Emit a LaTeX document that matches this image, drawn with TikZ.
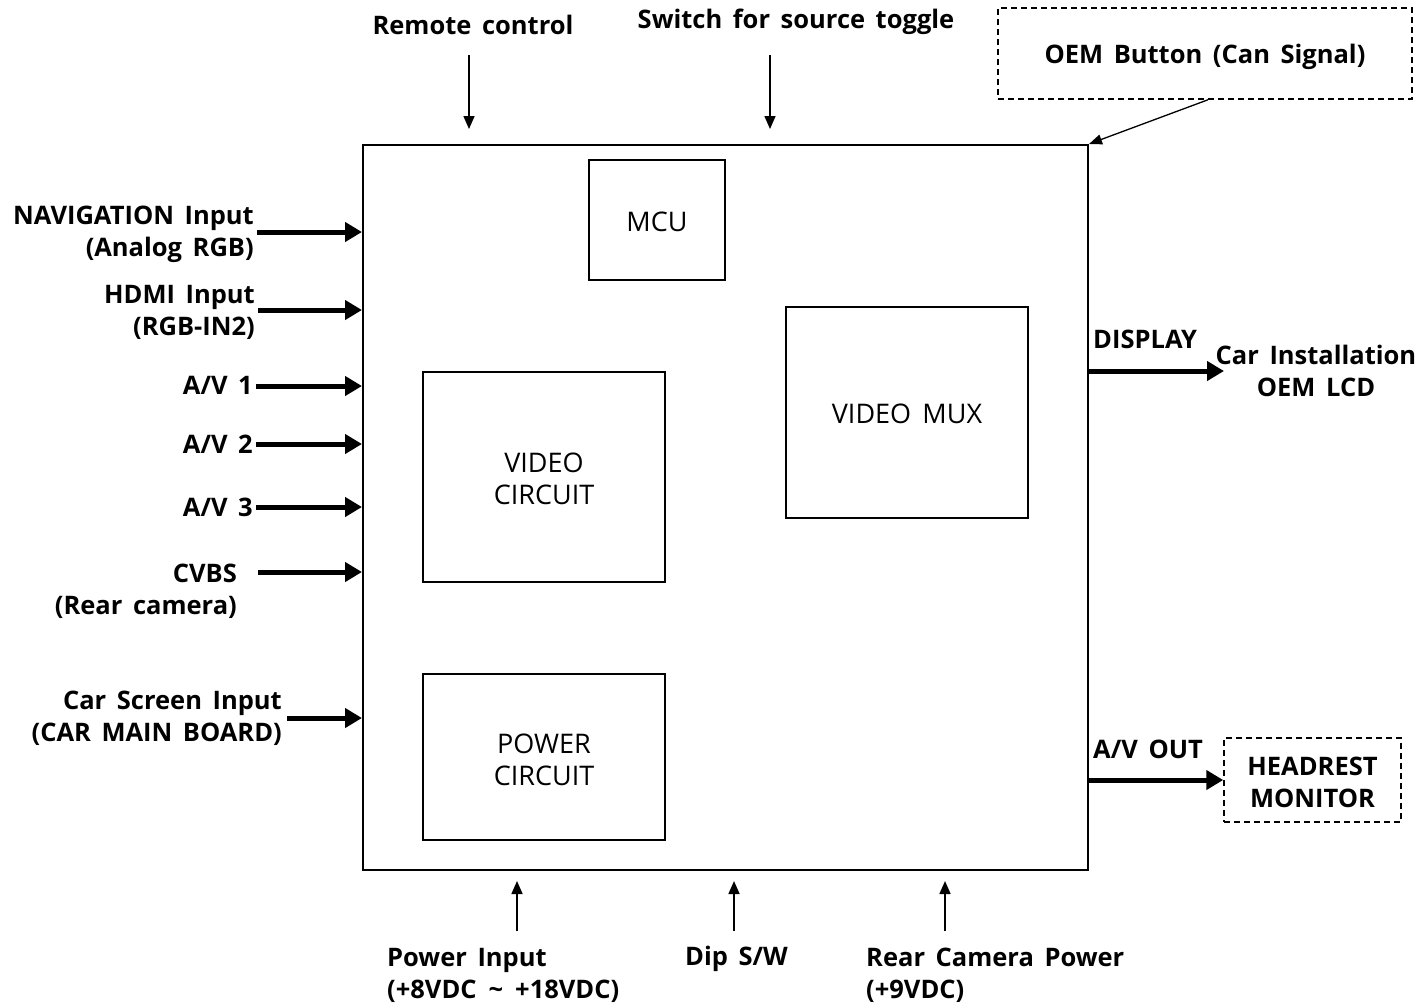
\documentclass[tikz,border=0pt]{standalone}
\usepackage{fontspec}
\setmainfont[WordSpace=1.6]{Open Sans}
\usetikzlibrary{arrows.meta,positioning}
\begin{document}
\begin{tikzpicture}[x=1pt,y=-1pt,
  lbl/.style={font=\fontsize{25.5}{32}\selectfont\bfseries, inner sep=0pt},
  inner/.style={draw, line width=1.5pt, font=\fontsize{27}{32}\selectfont, align=center, inner sep=0pt},
  intext/.style={font=\fontsize{27}{32}\selectfont, align=center, inner sep=0pt},
  thick arrow/.style={line width=5pt, -{Triangle[length=17pt,width=19pt]}},
  thin arrow/.style={line width=1.6pt, -{Triangle[length=13pt,width=11pt]}},
  dashbox/.style={draw, dashed, line width=1.5pt, dash pattern=on 6pt off 4pt, inner sep=0pt, align=center, font=\fontsize{25.5}{32}\selectfont\bfseries}]
\useasboundingbox (0,0) rectangle (1420,1005);
\fill[white] (0,0) rectangle (1420,1005);

% main box
\node[draw, line width=2pt, minimum width=725pt, minimum height=725pt, inner sep=0pt] (main) at (725.5,507.5) {};

% inner blocks
\node[inner, minimum width=136pt, minimum height=120pt] (mcu) at (657,220) {};
\node[intext] (mcut) at (657,222) {MCU};
\node[inner, minimum width=242pt, minimum height=211pt] (mux) at (907,412.5) {};
\node[intext] (muxt) at (907,414) {VIDEO MUX};
\node[inner, minimum width=242pt, minimum height=210pt] (vid) at (544,477) {};
\node[intext] (vidt) at (544,479) {VIDEO\\CIRCUIT};
\node[inner, minimum width=242pt, minimum height=166pt] (pwr) at (544,757) {};
\node[intext] (pwrt) at (544,760) {POWER\\CIRCUIT};

% left inputs
\node[lbl, align=right, anchor=east] (nav) at (254,234) {NAVIGATION Input\\(Analog RGB)};
\coordinate (navs) at (257,232);
\draw[thick arrow] (navs) -- (navs -| main.west);

\node[lbl, align=right, anchor=east] (hdmi) at (255,312) {HDMI Input\\(RGB-IN2)};
\coordinate (hdmis) at (258,310);
\draw[thick arrow] (hdmis) -- (hdmis -| main.west);

\node[lbl, anchor=east] (av1) at (253,385) {A/V 1};
\coordinate (av1s) at (256,386);
\draw[thick arrow] (av1s) -- (av1s -| main.west);

\node[lbl, anchor=east] (av2) at (253,444) {A/V 2};
\coordinate (av2s) at (256,444);
\draw[thick arrow] (av2s) -- (av2s -| main.west);

\node[lbl, anchor=east] (av3) at (253,507) {A/V 3};
\coordinate (av3s) at (256,507);
\draw[thick arrow] (av3s) -- (av3s -| main.west);

\node[lbl, align=right, anchor=east] (cvbs) at (237,591) {CVBS\\(Rear camera)};
\coordinate (cvbss) at (258,572);
\draw[thick arrow] (cvbss) -- (cvbss -| main.west);

\node[lbl, align=right, anchor=east] (car) at (282,718) {Car Screen Input\\(CAR MAIN BOARD)};
\coordinate (cars) at (287,718);
\draw[thick arrow] (cars) -- (cars -| main.west);

% top inputs
\node[lbl] (remote) at (473,25) {Remote control};
\coordinate (rems) at (469,55);
\draw[thin arrow] (rems) -- (469,129);

\node[lbl] (switch) at (796,22) {Switch for source toggle};
\coordinate (sws) at (770,55);
\draw[thin arrow] (sws) -- (770,129);

\node[dashbox, minimum width=414pt, minimum height=91pt] (oem) at (1205,53.5) {};
\node[lbl] (oemt) at (1205,57) {OEM Button (Can Signal)};
\draw[line width=1.3pt, -{Triangle[length=13pt,width=10pt]}] (oem.south -| 1208,0) -- (main.north east);

% right outputs
\coordinate (disps) at (main.east |- 0,371);
\coordinate (dispe) at (1224,371);
\draw[thick arrow] (disps) -- (dispe);
\node[lbl, anchor=west] (disp) at (1093,339) {DISPLAY};
\node[lbl, align=center] (lcd) at (1316,371) {Car Installation\\OEM LCD};

\node[dashbox, minimum width=177pt, minimum height=84pt] (head) at (1312.5,780) {};
\node[lbl, align=center] (headt) at (1312.5,782) {HEADREST\\MONITOR};
\coordinate (avos) at (main.east |- head.west);
\draw[thick arrow] (avos) -- (head.west);
\node[lbl, anchor=west] (avout) at (1093,749) {A/V OUT};

% bottom inputs
\coordinate (pws) at (517,931);
\draw[thin arrow] (pws) -- (517,881);
\node[lbl, align=left, anchor=west] (pin) at (387,975) {Power Input\\(+8VDC\hspace{12pt}\textasciitilde\hspace{12pt}+18VDC)};

\coordinate (dips) at (734,931);
\draw[thin arrow] (dips) -- (734,881);
\node[lbl, anchor=west] (dip) at (685,959) {Dip S/W};

\coordinate (rcs) at (945,931);
\draw[thin arrow] (rcs) -- (945,881);
\node[lbl, align=left, anchor=west] (rcp) at (866,975) {Rear Camera Power\\(+9VDC)};
\end{tikzpicture}
\end{document}
